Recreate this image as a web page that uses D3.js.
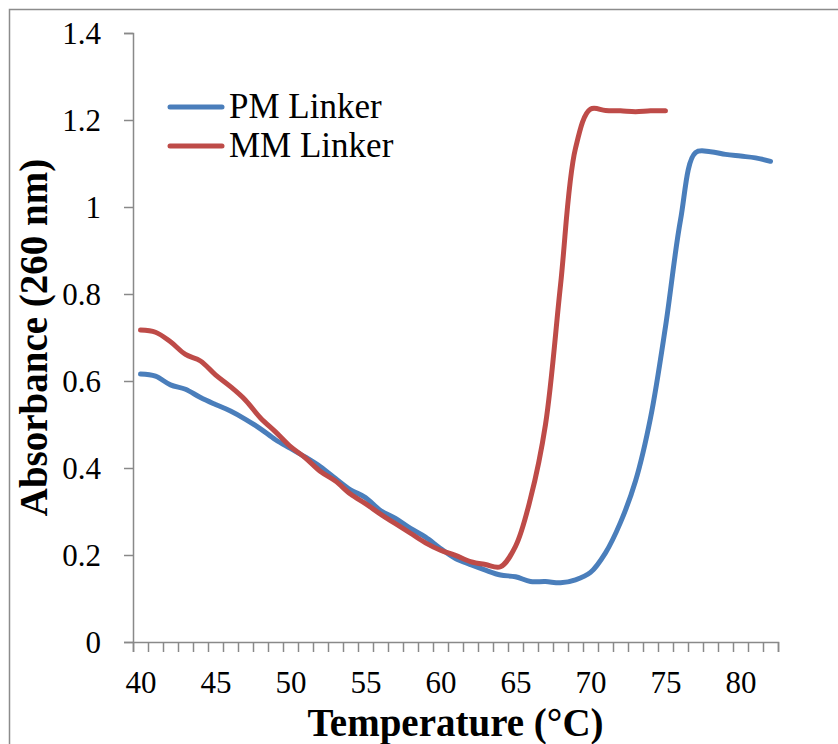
<!DOCTYPE html>
<html lang="en">

<head>
    <meta charset="UTF-8">
    <title>Absorbance melting curves</title>
    <script src="https://d3js.org/d3.v7.min.js"></script>
    <style>
        body {
            margin: 0;
            background: #fff;
        }

        svg text {
            font-family: "Liberation Serif", "Times New Roman", serif;
            fill: #000;
        }
    </style>
</head>

<body>
    <div id="chart"></div>

    <script>
        // Temperatures (°C), one reading per degree
        const pmTemps = [40, 41, 42, 43, 44, 45, 46, 47, 48, 49, 50, 51, 52, 53, 54, 55, 56, 57, 58, 59, 60,
            61, 62, 63, 64, 65, 66, 67, 68, 69, 70, 71, 72, 73, 74, 75, 76, 77, 78, 79, 80, 81, 82];
        const pmValues = [0.616, 0.611, 0.591, 0.581, 0.562, 0.546, 0.531, 0.512, 0.49, 0.465, 0.445,
            0.425, 0.403, 0.376, 0.35, 0.332, 0.302, 0.284, 0.261, 0.241, 0.215,
            0.192, 0.178, 0.165, 0.154, 0.15, 0.139, 0.139, 0.136, 0.143, 0.16,
            0.205, 0.275, 0.37, 0.515, 0.725, 0.97, 1.125, 1.127, 1.121, 1.117, 1.113, 1.105];

        const mmTemps = [40, 41, 42, 43, 44, 45, 46, 47, 48, 49, 50, 51, 52, 53, 54, 55, 56, 57,
            58, 59, 60, 61, 62, 63, 64, 65, 66, 67, 68, 69, 70, 71, 72, 73, 74, 75];
        const mmValues = [0.717, 0.712, 0.69, 0.661, 0.646, 0.614, 0.587, 0.556, 0.515, 0.483, 0.449,
            0.423, 0.392, 0.37, 0.34, 0.318, 0.294, 0.272, 0.25, 0.228, 0.211,
            0.199, 0.185, 0.178, 0.173, 0.22, 0.33, 0.5, 0.82, 1.135, 1.225,
            1.222, 1.221, 1.219, 1.221, 1.221];

        const xLabels = [40, 45, 50, 55, 60, 65, 70, 75, 80];
        const yTicks = [0, 0.2, 0.4, 0.6, 0.8, 1, 1.2, 1.4];

        const seriesNames = ["PM Linker", "MM Linker"];
        const colors = ["#4a7ebb", "#be4b48"];

        const width = 838, height = 744;
        const plot = { left: 133, right: 778, top: 33, bottom: 642 };

        const svg = d3.select("#chart")
            .append("svg")
            .attr("width", width)
            .attr("height", height);

        // outer chart frame (runs off the right and bottom edges)
        svg.append("rect")
            .attr("x", 9.5)
            .attr("y", 9.5)
            .attr("width", 1000)
            .attr("height", 1000)
            .attr("fill", "none")
            .attr("stroke", "#8c8c8c")
            .attr("stroke-width", 1.5);

        // category axis: each degree is one slot, ticks sit between slots
        const x = d3.scaleLinear()
            .domain([39.5, 82.5])
            .range([plot.left, plot.right]);

        const y = d3.scaleLinear()
            .domain([0, 1.4])
            .range([plot.bottom, plot.top]);

        const slotEdges = pmTemps.map(t => t - 0.5).concat([pmTemps[pmTemps.length - 1] + 0.5]);

        // x tick marks
        svg.append("g")
            .attr("transform", `translate(0,${plot.bottom})`)
            .call(d3.axisBottom(x).tickValues(slotEdges).tickSize(10).tickFormat(""));

        // x labels
        const xLabelAxis = svg.append("g")
            .attr("transform", `translate(0,${plot.bottom})`)
            .call(d3.axisBottom(x).tickValues(xLabels).tickSize(0).tickPadding(0));
        xLabelAxis.select(".domain").remove();
        xLabelAxis.selectAll("text")
            .attr("y", 51)
            .attr("dy", null)
            .style("font-size", "31px");

        // y axis
        const yAxis = svg.append("g")
            .attr("transform", `translate(${plot.left},0)`)
            .call(d3.axisLeft(y).tickValues(yTicks).tickSize(9).tickPadding(0)
                .tickFormat(d => d3.format("~g")(d)));
        yAxis.selectAll("text")
            .attr("x", -32)
            .attr("dy", "0.34em")
            .style("font-size", "31px");

        svg.selectAll(".domain, .tick line")
            .attr("stroke", "#898989")
            .attr("stroke-width", 1.5);

        // series lines
        const line = d3.line()
            .x(d => x(d[0]))
            .y(d => y(d[1]))
            .curve(d3.curveCatmullRom.alpha(0.5));

        const series = [
            d3.zip(pmTemps, pmValues),
            d3.zip(mmTemps, mmValues)
        ];

        svg.selectAll("path.series")
            .data(series)
            .enter()
            .append("path")
            .attr("class", "series")
            .attr("d", line)
            .attr("fill", "none")
            .attr("stroke", (d, i) => colors[i])
            .attr("stroke-width", 5)
            .attr("stroke-linecap", "round")
            .attr("stroke-linejoin", "round");

        // legend
        const legend = svg.append("g");
        const legendY = [107, 146];
        seriesNames.forEach((name, i) => {
            legend.append("line")
                .attr("x1", 170)
                .attr("x2", 222)
                .attr("y1", legendY[i])
                .attr("y2", legendY[i])
                .attr("stroke", colors[i])
                .attr("stroke-width", 5)
                .attr("stroke-linecap", "round");
            legend.append("text")
                .attr("x", 229)
                .attr("y", legendY[i] + 11)
                .style("font-size", "35px")
                .text(name);
        });

        // axis titles
        svg.append("text")
            .attr("x", (plot.left + plot.right) / 2)
            .attr("y", 736)
            .attr("text-anchor", "middle")
            .style("font-size", "39px")
            .style("font-weight", "bold")
            .text("Temperature (°C)");

        svg.append("text")
            .attr("transform", `translate(47,${(plot.top + plot.bottom) / 2}) rotate(-90)`)
            .attr("text-anchor", "middle")
            .style("font-size", "39px")
            .style("font-weight", "bold")
            .text("Absorbance (260 nm)");
    </script>
</body>

</html>
